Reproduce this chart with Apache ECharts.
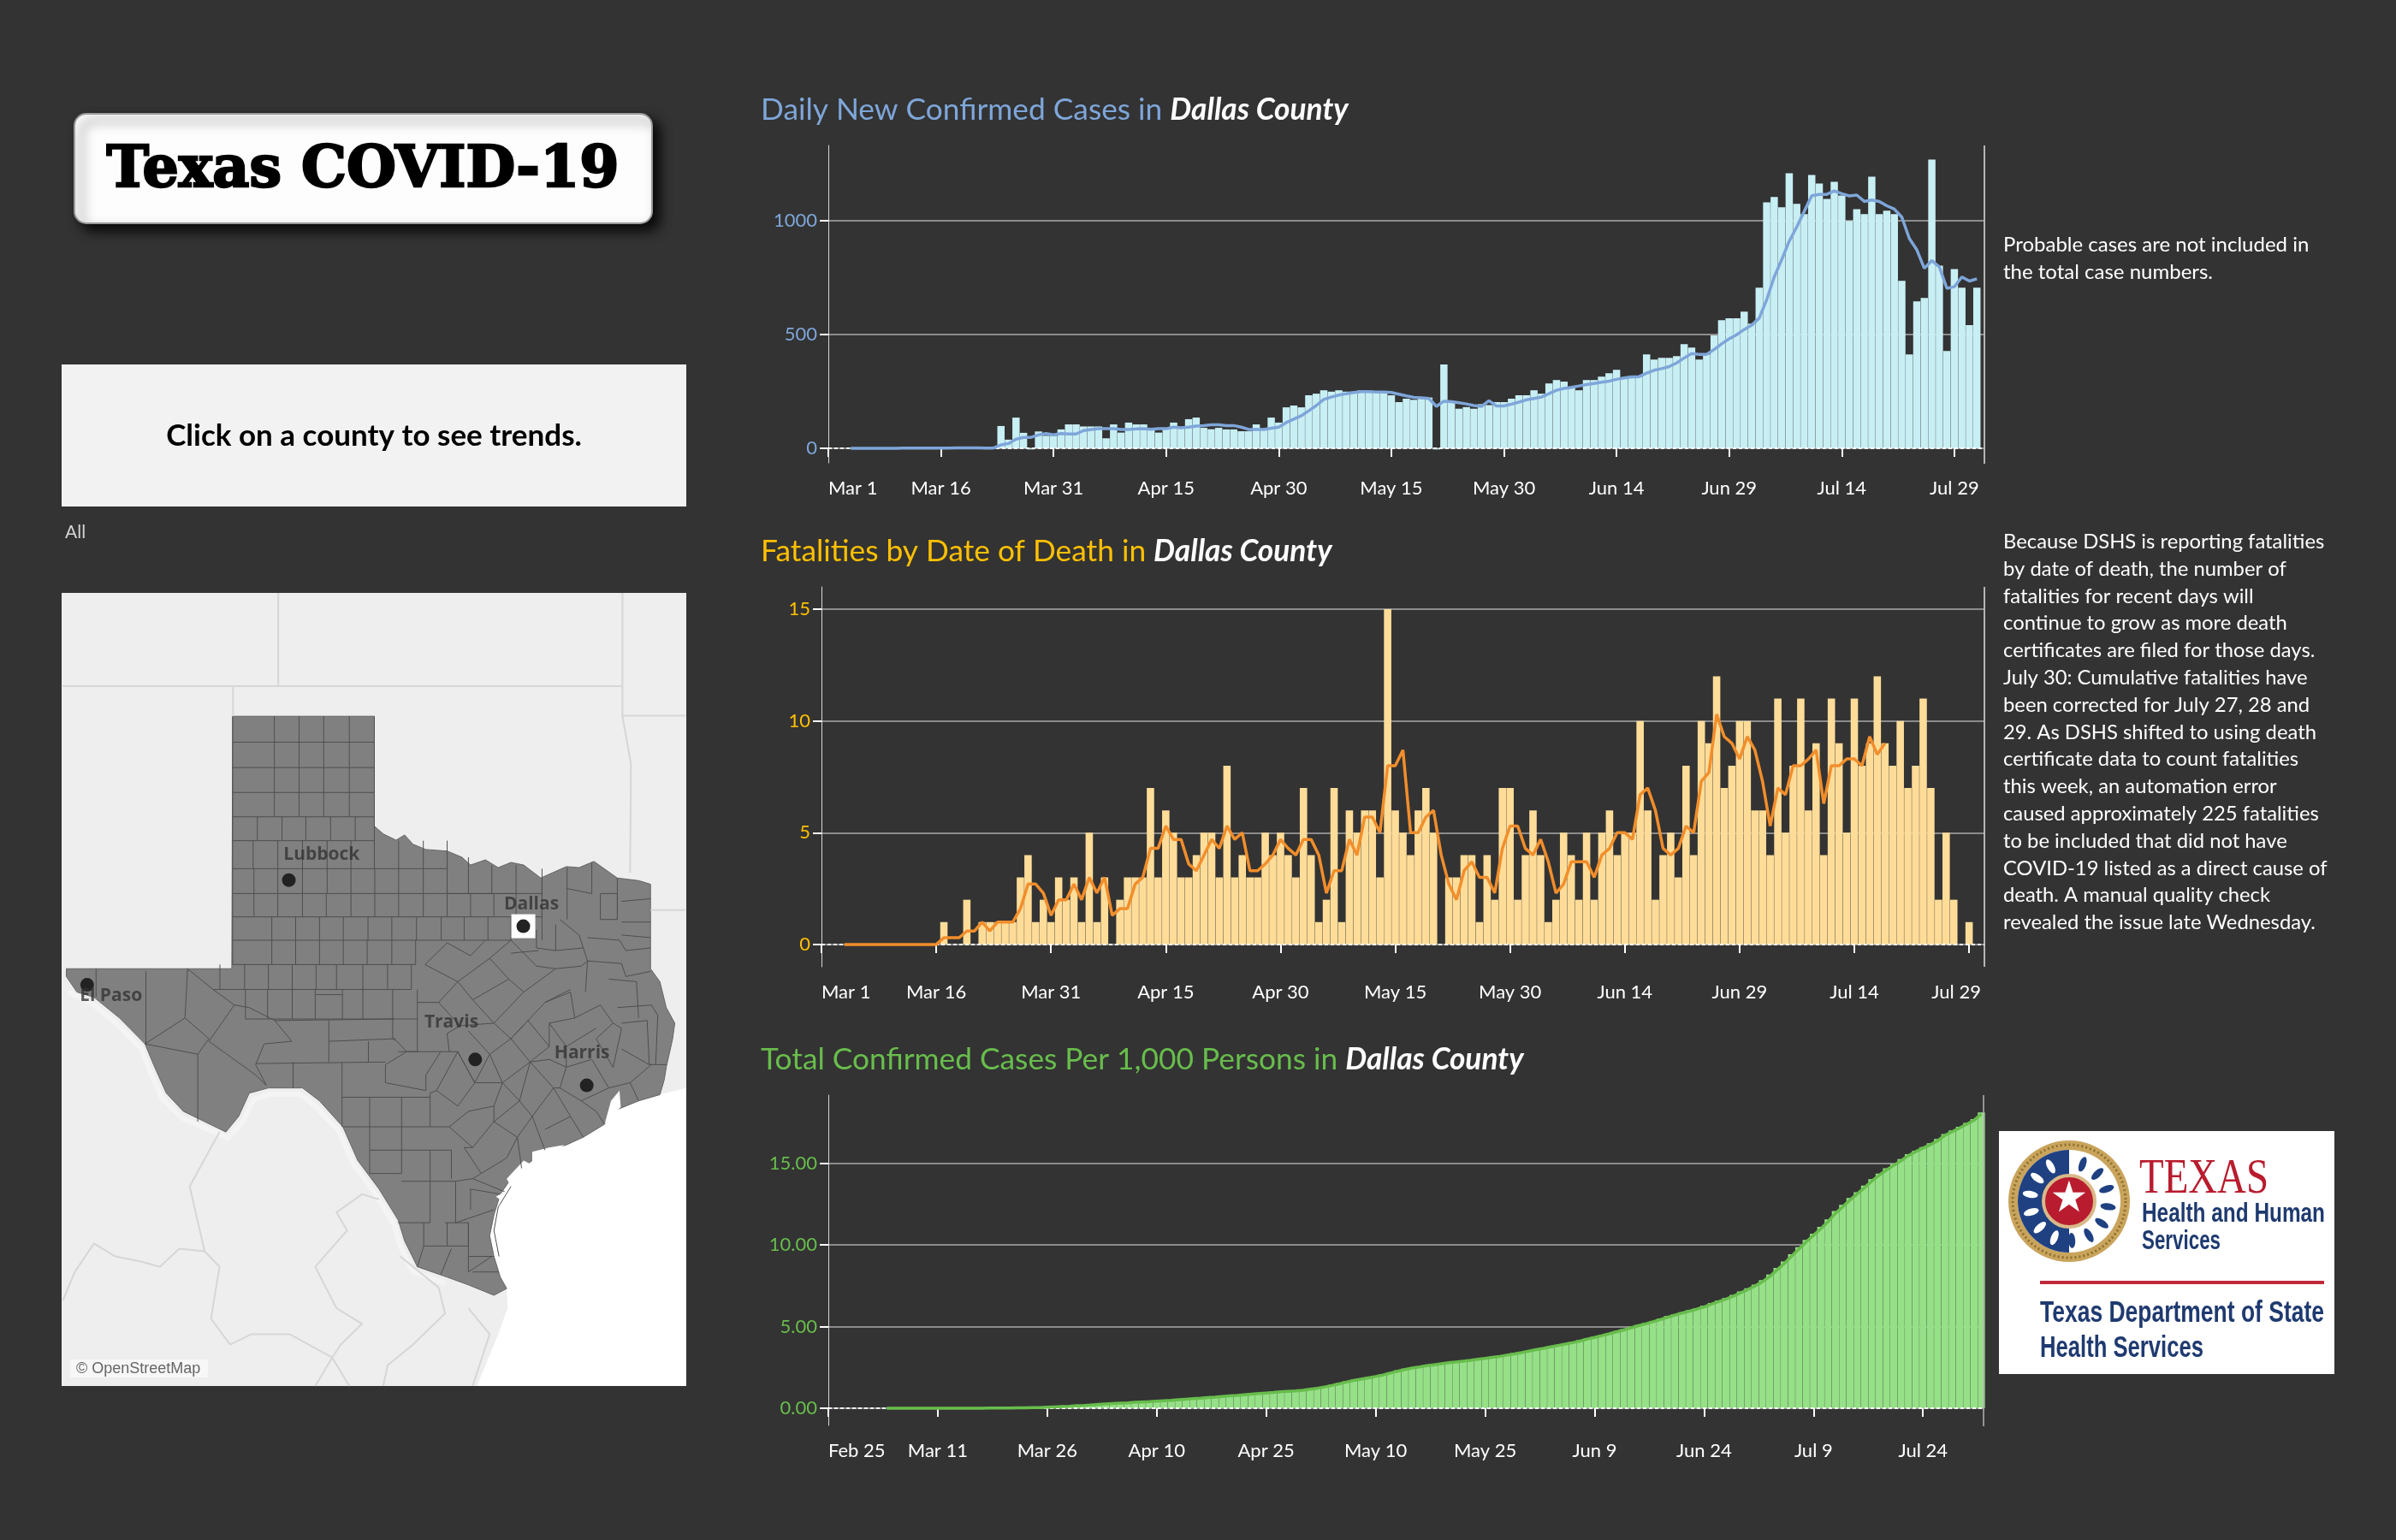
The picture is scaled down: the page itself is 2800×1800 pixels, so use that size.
<!DOCTYPE html>
<html>
<head>
<meta charset="utf-8">
<title>Texas COVID-19</title>
<script src="https://cdn.jsdelivr.net/npm/echarts@6/dist/echarts.min.js"></script>
<style>
html, body { margin: 0; padding: 0; background: #333333; }
#main { width: 2800px; height: 1800px; }
</style>
</head>
<body>
<div id="main"></div>
<script>
var font = 'Lato';

// x axes are day numbers counted from the first tick
var caseTickDays = [0, 15, 30, 45, 60, 75, 90, 105, 120, 135, 150];
var caseTickLabels = ['Mar 1', 'Mar 16', 'Mar 31', 'Apr 15', 'Apr 30', 'May 15', 'May 30', 'Jun 14', 'Jun 29', 'Jul 14', 'Jul 29'];
var totalTickLabels = ['Feb 25', 'Mar 11', 'Mar 26', 'Apr 10', 'Apr 25', 'May 10', 'May 25', 'Jun 9', 'Jun 24', 'Jul 9', 'Jul 24'];

// daily new cases, first value is day 3
var dailyCases = [2,1,1,1,0,1,1,4,2,1,1,2,4,1,1,1,1,-3,-3,2,
    98,38,135,68,-5,74,55,55,83,105,105,96,96,96,44,105,69,113,105,105,90,69,90,113,90,128,135,
    90,84,90,83,83,75,75,105,88,135,113,180,188,180,233,240,255,249,255,249,
    249,255,253,249,249,233,203,218,213,223,223,-5,368,203,174,181,174,194,190,203,203,218,233,233,255,240,
    285,300,293,270,255,300,300,315,330,345,308,315,315,413,390,398,398,405,458,443,390,413,496,563,571,571,601,548,706,
    1081,1104,1059,1209,1074,1029,1201,1164,1096,1171,1111,999,1051,1029,1194,1029,1044,1029,736,413,646,661,1269,803,428,788,706,541,706];
var dailyAvg = [0,0,0,0,0,0,0,1,1,1,1,1,1,1,2,2,2,2,1,1,
    15,21,40,48,48,59,65,59,65,63,63,78,83,86,86,86,83,83,85,86,84,86,86,93,90,93,98,
    100,103,103,100,100,93,83,83,83,88,93,113,128,143,165,188,215,225,234,240,
    245,249,249,247,247,245,238,230,224,222,219,184,207,205,200,195,188,184,209,186,186,194,203,213,219,225,
    240,255,263,268,274,280,285,290,295,303,309,314,315,330,343,350,359,375,397,416,413,413,434,459,481,499,522,541,572,
    653,753,829,910,973,1041,1110,1116,1116,1131,1119,1109,1113,1085,1091,1085,1066,1051,1016,922,872,791,825,797,703,710,753,735,745];

// fatalities, first value is day 3
var fatalities = [0,0,0,0,0,0,0,0,0,0,0,0,0,1,0,0,2,0,1,1,1,1,1,3,4,1,2,1,3,2,3,1,5,1,3,0,2,3,3,3,7,3,6,5,3,3,4,5,5,3,8,3,4,3,3,5,4,5,4,3,7,4,1,2,7,1,
    6,5,6,6,3,15,6,5,4,6,7,5,0,3,3,4,4,1,4,2,7,7,2,4,6,4,1,2,5,4,2,5,2,5,6,4,5,5,10,6,2,4,5,3,8,4,10,9,12,7,8,10,10,6,6,4,11,5,8,11,6,9,4,11,9,5,11,8,9,12,9,8,10,7,8,11,7,2,5,2,0,1,0];
var fatalityAvg = [0,0,0,0,0,0,0,0,0,0,0,0,0,0.3,0.3,0.3,0.6,0.6,1,0.6,1,1,1,1.6,2.7,2.7,2.3,1.3,2,2,2.7,2,3,2.3,3,1.3,1.6,1.6,2.7,3,4.3,4.3,5.3,4.7,4.7,3.6,3.3,4,4.7,4.3,5.3,4.7,5,3.3,3.3,3.6,4,4.7,4.3,4,4.7,4.7,4,2.3,3.3,3.3,
    4.7,4,5.7,5.7,5,8,8,8.7,5,5,5.7,6,4,2.7,2,3.3,3.7,3,3,2.3,4.3,5.3,5.3,4.3,4,4.7,3.7,2.3,2.7,3.7,3.7,3.7,3,4,4.3,5,5,4.7,6.7,7,6,4.3,4,4.3,5.3,5,7.3,7.7,10.3,9.3,9,8.3,9.3,8.7,7.3,5.3,7,6.7,8,8,8.3,8.7,6.3,8,8,8.3,8.3,8,9.3,8.5,9];

// total cases per 1,000 persons, first value is day 8
var totalCases = [0,0,0,0,0,0,0,0.01,0.01,0.01,0.01,0.01,0.01,0.01,0.02,0.02,0.02,0.02,0.03,0.03,0.04,
    0.05,0.07,0.09,0.12,0.14,0.17,0.19,0.22,0.26,0.28,0.31,0.33,0.35,0.38,0.4,0.42,0.45,0.48,0.5,0.54,0.57,0.6,0.63,0.67,0.7,0.74,0.77,0.81,0.84,0.88,0.92,0.96,0.98,1.02,1.05,1.08,
    1.13,1.19,1.26,1.35,1.43,1.54,1.65,1.74,1.82,1.9,1.98,2.09,2.2,2.32,2.42,2.5,2.56,2.64,2.7,2.76,2.81,2.87,2.92,2.97,3.03,3.08,3.15,3.21,3.29,3.37,3.44,3.53,3.62,3.71,3.8,3.88,
    3.97,4.06,4.17,4.28,4.38,4.49,4.61,4.72,4.84,4.98,5.1,5.22,5.34,5.48,5.64,5.76,5.87,6,6.12,6.28,6.44,6.6,6.75,6.93,7.14,7.34,7.56,7.84,8.18,8.58,8.98,9.42,9.85,10.3,
    10.68,11.1,11.56,12.06,12.44,12.86,13.22,13.62,14.02,14.36,14.68,14.94,15.25,15.55,15.76,15.98,16.22,16.48,16.78,17,17.22,17.46,17.7,18.1];
var totalLine = [0,0,0,0,0,0,0,0,0,0,0,0,0,0,0.01,0.01,0.01,0.01,0.02,0.02,0.03,
    0.04,0.06,0.08,0.1,0.12,0.15,0.17,0.2,0.23,0.26,0.29,0.31,0.33,0.36,0.38,0.4,0.43,0.46,0.48,0.52,0.55,0.58,0.61,0.65,0.68,0.72,0.75,0.78,0.82,0.86,0.9,0.93,0.96,1,1.03,1.06,
    1.1,1.16,1.22,1.3,1.39,1.49,1.6,1.7,1.78,1.86,1.94,2.03,2.15,2.26,2.37,2.46,2.52,2.6,2.66,2.72,2.78,2.83,2.88,2.93,2.99,3.05,3.11,3.17,3.25,3.32,3.4,3.49,3.58,3.66,3.75,3.84,
    3.92,4.01,4.11,4.23,4.33,4.44,4.55,4.67,4.79,4.92,5.05,5.16,5.29,5.42,5.56,5.7,5.82,5.94,6.06,6.2,6.36,6.52,6.68,6.85,7.06,7.26,7.48,7.74,8.06,8.46,8.86,9.3,9.74,10.18,
    10.58,10.98,11.42,11.92,12.32,12.74,13.12,13.5,13.9,14.26,14.58,14.86,15.14,15.46,15.7,15.92,16.12,16.36,16.7,16.92,17.14,17.38,17.62,18];

var noteOne = ['Probable cases are not included in', 'the total case numbers.'];
var noteTwo = ['Because DSHS is reporting fatalities', 'by date of death, the number of', 'fatalities for recent days will',
    'continue to grow as more death', 'certificates are filed for those days.', 'July 30: Cumulative fatalities have',
    'been corrected for July 27, 28 and', '29. As DSHS shifted to using death', 'certificate data to count fatalities',
    'this week, an automation error', 'caused approximately 225 fatalities', 'to be included that did not have',
    'COVID-19 listed as a direct cause of', 'death. A manual quality check', 'revealed the issue late Wednesday.'];

// map, traced in panel units (x 44-1512, y 20-1550)
var cityNames = ['Lubbock', 'Dallas', 'El Paso', 'Travis', 'Harris'];
var cityDots = [[578, 574], [1129, 663], [104, 776], [1016, 920], [1278, 970]];
var cityLabelSpots = [[655, 525], [1148, 620], [160, 798], [960, 848], [1267, 908]];

var texasOutline = [[446,258],[779,258],[779,470],[800,485],[830,497],[850,487],[870,505],[900,515],[950,518],[985,530],[1005,545],[1040,535],[1070,550],[1100,540],[1130,545],[1170,570],[1230,548],[1260,550],[1295,538],[1350,570],[1400,575],[1428,582],[1428,745],[1450,770],[1465,820],[1485,850],[1480,880],[1465,935],[1460,960],[1450,988],[1400,1000],[1340,1020],[1320,1045],[1270,1070],[1230,1085],[1180,1095],[1150,1115],[1125,1130],[1100,1150],[1075,1180],[1060,1220],[1050,1260],[1060,1300],[1075,1340],[1090,1362],[1060,1375],[1000,1355],[950,1340],[880,1320],[850,1270],[835,1230],[790,1170],[740,1115],[705,1050],[650,1000],[610,975],[530,975],[485,985],[460,1030],[430,1060],[380,1040],[330,1020],[290,985],[260,930],[240,890],[180,840],[120,800],[80,790],[55,760],[55,745],[444,745],[446,258]];
var gulfOutline = [[1512,975],[1450,988],[1400,1000],[1340,1020],[1320,1045],[1270,1070],[1230,1085],[1180,1095],[1150,1115],[1125,1130],[1100,1150],[1075,1180],[1060,1220],[1050,1260],[1060,1300],[1075,1340],[1090,1362],[1092,1400],[1070,1450],[1020,1550],[1512,1550],[1512,975]];
var panelOutline = [[44,20],[1512,20],[1512,1550],[44,1550],[44,20]];
var bayOutlines = [
    [[1320,1045],[1335,1000],[1355,980],[1358,1012]],
    [[1150,1098],[1190,1090],[1225,1085],[1180,1112],[1150,1125]],
    [[1090,1150],[1130,1115],[1160,1128],[1100,1165]],
    [[1065,1185],[1090,1172],[1082,1195]]
];

var borderLines = [
    [[46,200],[1360,200]], [[553,20],[553,200]], [[447,200],[447,258]],
    [[1362,20],[1362,258],[1382,350],[1380,560]], [[1362,257],[1510,257]], [[1428,632],[1510,632]],
    [[415,1060],[345,1165],[380,1290]],
    [[47,1385],[75,1330],[120,1275],[170,1300],[230,1310],[275,1320],[320,1285],[380,1290],[415,1320],[395,1420],[440,1470],[490,1450],[580,1450],[680,1495],[720,1550]],
    [[640,1320],[715,1250],[690,1215],[750,1180],[790,1190]],
    [[640,1320],[690,1400],[750,1430],[700,1470],[680,1495],[640,1550]],
    [[840,1300],[930,1360],[945,1410],[870,1470],[810,1510],[800,1550]],
    [[1000,1400],[1050,1450],[1010,1550]]
];
// pale band beside the rio grande
var riverHalo = [[[60,790],[115,812],[175,852],[232,900],[250,940],[280,995],[325,1032],[380,1052],[435,1072],[470,1040],[495,997],[530,987],[605,987],[640,1010],[695,1058],[730,1122],[780,1178],[825,1238],[840,1280],[870,1330],[945,1352]]];
var countyRows = [
    [258, 308, [446,544,602,660,720,779]], [308, 357, [446,544,602,660,720,779]],
    [357, 405, [446,544,602,660,720,779]], [405, 452, [446,544,602,660,720,779]],
    [452, 498, [446,504,562,618,676,734,779]],
    [498, 552, [446,494,552,610,668,724,779,836,894,950]],
    [552, 600, [446,496,552,610,668,724,780,836,894,950,1000,1055,1112,1173]],
    [600, 645, [446,496,552,610,666,724,780,836,894,950,1005,1060,1112,1173]],
    [645, 690, [446,538,594,650,706,764,820,878,936,990,1046,1100]],
    [690, 737, [446,538,594,650,706,762,820,876]],
    [737, 785, [416,474,530,586,642,690,752,810,866]],
    [785, 842, [476,528,586,640,704,752,822,880]]
];
var countyLines = [
    [[950,518],[950,552]], [[1000,530],[1000,552]], [[1055,545],[1055,552]], [[1112,545],[1112,552]], [[1232,550],[1232,650]], [[1290,540],[1290,600]], [[1350,570],[1350,650]],
    [[950,600],[1115,600]], [[1173,570],[1173,690]], [[1230,590],[1290,600]], [[1310,600],[1350,600],[1350,650],[1310,650],[1310,600]],
    [[1360,615],[1428,610]], [[1360,655],[1428,655]], [[1360,680],[1428,685]], [[1280,685],[1355,690],[1370,710],[1428,705]],
    [[1215,650],[1260,680],[1280,730],[1275,790]], [[1205,660],[1205,710],[1270,705]], [[1160,670],[1160,705],[1205,710]],
    [[1205,745],[1265,740],[1280,730],[1360,735],[1370,760],[1428,750]], [[1330,765],[1395,770],[1400,840]], [[1350,820],[1430,815]],
    [[125,745],[125,800]], [[242,750],[242,890]], [[340,745],[334,840],[240,890]], [[334,840],[390,880],[364,910],[240,890]], [[364,910],[364,1040]],
    [[390,885],[450,815],[400,785],[340,745]], [[390,885],[500,950],[525,970]], [[400,785],[640,785]],
    [[588,925],[588,975]], [[500,928],[805,925]], [[525,970],[500,930],[520,890],[585,885]], [[585,885],[545,845],[485,820],[450,815]],
    [[672,845],[672,925]], [[672,885],[830,880]], [[765,885],[765,925]], [[545,845],[825,842]], [[640,795],[704,795]],
    [[822,842],[822,880],[832,885],[855,905]], [[880,842],[880,905],[835,905]],
    [[898,737],[950,695],[1005,720],[1040,690]], [[898,737],[975,770],[1050,725],[1100,690]], [[975,770],[1010,805],[1095,765],[1130,790],[1205,745]],
    [[1010,805],[1060,850],[1130,790]], [[1060,850],[1100,880],[1180,810],[1240,785]], [[1050,725],[1095,765]], [[1100,690],[1160,740],[1205,745]], [[1100,715],[1165,710]],
    [[880,810],[930,810],[980,855],[950,870],[955,905]], [[930,810],[975,770]], [[980,855],[1060,850]],
    [[1000,865],[1050,910],[1015,965],[975,905]], [[1050,910],[1100,880],[1145,925],[1080,965],[1050,910]], [[1100,880],[1140,845],[1190,895],[1145,925]],
    [[1180,810],[1240,790],[1250,840],[1190,850],[1190,895]], [[1250,840],[1310,815],[1340,850],[1300,880]], [[1190,850],[1230,895],[1300,860]],
    [[1230,895],[1230,935],[1190,920],[1145,925]], [[1230,935],[1215,975],[1265,1000],[1330,975],[1290,920],[1230,935]],
    [[1300,880],[1340,935],[1360,860],[1340,850]], [[1360,850],[1420,845],[1425,930],[1360,900]], [[1430,815],[1445,835],[1440,930]], [[1425,930],[1465,930]],
    [[1330,975],[1380,965],[1400,1000]], [[1380,965],[1430,930]],
    [[855,905],[935,905],[900,950],[900,980],[805,965],[805,930],[855,905]], [[935,905],[975,905],[925,980],[910,985],[910,1050]],
    [[975,905],[1015,965],[975,1010],[925,980]], [[1015,965],[1080,965],[1060,1010],[1000,1020]], [[1080,965],[1120,1000],[1060,1040],[1060,1010]],
    [[1120,1000],[1145,925]], [[1145,925],[1200,975],[1150,1030],[1120,1000]], [[1200,975],[1215,975]], [[1150,1030],[1180,1095]],
    [[1200,975],[1240,1030],[1180,1055]], [[1240,1030],[1270,1070]], [[1265,1000],[1300,1020],[1320,1045]],
    [[910,1050],[955,1050],[1000,1020]], [[955,1050],[1010,1090],[1060,1040],[1115,1070],[1150,1030]], [[1010,1090],[990,1090],[1030,1140],[1090,1110],[1115,1070]],
    [[1115,1070],[1125,1130]], [[1030,1140],[1010,1150],[1085,1175]], [[1010,1150],[970,1155],[970,1235],[1060,1210]], [[1005,1170],[1005,1210]], [[1005,1170],[1075,1180]],
    [[703,925],[703,1050]], [[768,993],[768,1140],[843,1140],[843,993]], [[703,993],[910,993]], [[705,1050],[910,1050]], [[768,1095],[960,1095],[960,1150]],
    [[843,1155],[970,1155]], [[910,1095],[910,1235],[835,1235]], [[895,1235],[895,1280],[950,1280],[950,1235]], [[945,1235],[1000,1235],[1000,1280],[950,1280]],
    [[1000,1235],[1000,1330],[1055,1300]], [[1000,1300],[1060,1300]], [[880,1320],[895,1280]], [[935,1335],[960,1285]], [[1010,1330],[1070,1330]],
    [[1072,1300],[1060,1250],[1070,1205],[1100,1165]]
];

// geo coordinates grow upwards, the traced ones grow downwards
function flip(p) { return [p[0], -p[1]]; }
function flipAll(list) { return list.map(flip); }
function polygon(name, pts) {
    return { type: 'Feature', properties: { name: name }, geometry: { type: 'Polygon', coordinates: [flipAll(pts)] } };
}
var features = [polygon('land', panelOutline), polygon('gulf', gulfOutline), polygon('state', texasOutline)];
bayOutlines.forEach(function (b, i) { features.push(polygon('bay' + i, b.concat([b[0]]))); });
echarts.registerMap('texas', { type: 'FeatureCollection', features: features });

var gridLines = [];
countyRows.forEach(function (row) {
    row[2].forEach(function (x) { gridLines.push([[x, row[0]], [x, row[1]]]); });
    gridLines.push([[row[2][0], row[1]], [row[2][row[2].length - 1], row[1]]]);
});

function toLines(list) {
    return list.map(function (line) { return { coords: flipAll(line) }; });
}
function byDay(start, values) {
    return values.map(function (v, i) { return [start + i, v]; });
}

function xAxis(grid, max, labels, lastShift) {
    return {
        type: 'value', gridIndex: grid, min: 0, max: max, position: 'bottom',
        axisLine: { show: false },
        axisTick: { show: true, length: 10, customValues: caseTickDays, lineStyle: { color: '#fff', width: 2 } },
        axisLabel: {
            customValues: caseTickDays, color: '#fff', fontFamily: font, fontSize: 22, margin: 19, alignMinLabel: 'left',
            rich: { last: { color: '#fff', fontFamily: font, fontSize: 22, padding: [0, lastShift * 2, 0, 0] } },
            formatter: function (v) {
                var i = caseTickDays.indexOf(v);
                return (i === labels.length - 1 && lastShift) ? '{last|' + labels[i] + '}' : labels[i];
            }
        },
        splitLine: { show: false }
    };
}
function yAxis(grid, min, max, ticks, color, digits) {
    return {
        type: 'value', gridIndex: grid, min: min, max: max,
        axisLine: { show: true, onZero: false, lineStyle: { color: '#d9d9d9', width: 1 } },
        axisTick: { show: true, length: 10, customValues: ticks, lineStyle: { color: '#fff', width: 2 } },
        axisLabel: {
            customValues: ticks, color: color, fontFamily: font, fontSize: 22, margin: 13,
            formatter: function (v) { return v.toFixed(digits); }
        },
        splitLine: { show: true, lineStyle: { color: '#8c8c8c', width: 2 } }
    };
}
function bars(grid, start, values, color, width) {
    return {
        type: 'bar', xAxisIndex: grid, yAxisIndex: grid, barWidth: width, data: byDay(start, values),
        itemStyle: { color: color }, silent: true,
        markLine: {
            silent: true, symbol: 'none', animation: false, label: { show: false },
            lineStyle: { color: '#fff', type: [4, 3], width: 2 }, data: [{ yAxis: 0 }]
        }
    };
}
function line(grid, start, values, color) {
    return {
        type: 'line', xAxisIndex: grid, yAxisIndex: grid, showSymbol: false, symbol: 'none', silent: true,
        data: byDay(start, values), lineStyle: { color: color, width: 3.5 }, z: 5
    };
}
function chartTitle(text, color, x, y) {
    return {
        left: x, top: y, padding: 0, text: '{a|' + text + ' in }{b|Dallas County}',
        textStyle: {
            rich: {
                a: { color: color, fontFamily: font, fontSize: 35.3, fontWeight: 'normal' },
                b: { color: '#fff', fontFamily: font, fontSize: 35.3, fontWeight: 'bold', fontStyle: 'italic' }
            }
        }
    };
}
function txt(text, x, y, size, fill, extra) {
    return {
        type: 'text', silent: true, z: 20,
        style: Object.assign({ text: text, x: x, y: y, fontSize: size, fontFamily: font, fill: fill, textVerticalAlign: 'middle' }, extra || {})
    };
}
// squeezed text, no condensed face is installed
var measureCtx = document.createElement('canvas').getContext('2d');
function fitted(text, x, y, size, width, fill, family, weight) {
    measureCtx.font = weight + ' ' + size + 'px "' + family + '"';
    var el = txt(text, 0, 0, size, fill, { fontFamily: family, fontWeight: weight });
    el.x = x;
    el.y = y;
    el.scaleX = width / measureCtx.measureText(text).width;
    return el;
}
function rule(x, y1, y2, color, width) {
    return { type: 'line', silent: true, z: 3, shape: { x1: x, y1: y1, x2: x, y2: y2 }, style: { stroke: color, lineWidth: width } };
}

// texas hhs seal for the logo box
function sealParts(cx, cy) {
    var parts = [
        { type: 'circle', shape: { cx: cx, cy: cy, r: 71 }, style: { fill: '#c9a45c' } },
        { type: 'circle', shape: { cx: cx, cy: cy, r: 66 }, style: { fill: 'none', stroke: '#8d6f2c', lineWidth: 3, lineDash: [2, 3] } },
        { type: 'circle', shape: { cx: cx, cy: cy, r: 60 }, style: { fill: '#fff' } },
        { type: 'sector', shape: { cx: cx, cy: cy, r: 60, startAngle: Math.PI / 2, endAngle: Math.PI * 1.5 }, style: { fill: '#1f4182' } }
    ];
    for (var a = 20; a <= 340; a += 26) {
        var rad = a * Math.PI / 180;
        parts.push({
            type: 'ellipse', rotation: -rad, x: cx + 46 * Math.sin(rad), y: cy - 46 * Math.cos(rad),
            shape: { cx: 0, cy: 0, rx: 4, ry: 9 },
            style: { fill: a < 180 ? '#1f4182' : '#fff' }
        });
    }
    parts.push({ type: 'circle', shape: { cx: cx, cy: cy, r: 30 }, style: { fill: '#b81c2e', stroke: '#d9b98a', lineWidth: 4 } });
    parts.push(txt('\u2605', cx, cy - 1, 50, '#fff', { align: 'center', fontFamily: 'DejaVu Sans' }));
    parts.forEach(function (p) { p.silent = true; p.z = 11; });
    return parts;
}

var navy = '#1f3a70';
var decor = [
    // title plate
    {
        type: 'rect', silent: true, z: 1, shape: { x: 87, y: 133, width: 675, height: 128, r: 14 },
        style: { fill: '#fdfdfd', stroke: '#9a9a9a', lineWidth: 2, shadowColor: 'rgba(0,0,0,0.85)', shadowBlur: 14, shadowOffsetX: 8, shadowOffsetY: 8 }
    },
    txt('Texas COVID-19', 424, 201, 66.5, '#000', { align: 'center', fontFamily: 'DejaVu Serif', fontWeight: 'bold', stroke: '#000', lineWidth: 2.5 }),
    // county prompt
    { type: 'rect', silent: true, z: 1, shape: { x: 72, y: 426, width: 730, height: 166 }, style: { fill: '#f2f2f2' } },
    txt('Click on a county to see trends.', 437, 510, 35, '#000', { align: 'center', fontWeight: 'bold' }),
    txt('All', 76, 622, 21, '#d4d4d4'),
    // osm credit
    { type: 'rect', silent: true, z: 10, shape: { x: 82, y: 1589, width: 161, height: 21 }, style: { fill: '#f7f7f7' } },
    txt('\u00a9 OpenStreetMap', 89, 1600, 18, '#666', { fontFamily: 'Liberation Sans' }),
    // right hand frame of each plot
    rule(2319, 170, 542, '#b5b5b5', 2),
    rule(2319, 686, 1130, '#b5b5b5', 2),
    rule(2318, 1280, 1667, '#b5b5b5', 1.5),
    txt(noteOne.join('\n'), 2341, 302, 24, '#fff', { lineHeight: 32 }),
    txt(noteTwo.join('\n'), 2341, 856, 23.8, '#fff', { lineHeight: 31.8 }),
    // logo
    { type: 'rect', silent: true, z: 10, shape: { x: 2336, y: 1322, width: 392, height: 284 }, style: { fill: '#fff' } },
    fitted('TEXAS', 2500, 1379, 56, 151, '#b81c2e', 'Liberation Serif', 'normal'),
    fitted('Health and Human', 2503, 1419, 32, 214, navy, 'Liberation Sans', 'bold'),
    fitted('Services', 2503, 1451, 32, 92, navy, 'Liberation Sans', 'bold'),
    { type: 'rect', silent: true, z: 11, shape: { x: 2384, y: 1497, width: 332, height: 4 }, style: { fill: '#c0283c' } },
    fitted('Texas Department of State', 2384, 1535, 35, 332, navy, 'Liberation Sans', 'bold'),
    fitted('Health Services', 2384, 1576, 35, 191, navy, 'Liberation Sans', 'bold')
].concat(sealParts(2418, 1404));

var myChart = echarts.init(document.getElementById('main'));
var option = {
    animation: false,
    backgroundColor: '#333333',
    title: [
        chartTitle('Daily New Confirmed Cases', '#7ea6d9', 889, 111),
        chartTitle('Fatalities by Date of Death', '#ffc000', 889, 627),
        chartTitle('Total Confirmed Cases Per 1,000 Persons', '#68bd4c', 889, 1221)
    ],
    grid: [
        { left: 968, top: 170, width: 1351, height: 371 },
        { left: 960, top: 686, width: 1359, height: 444 },
        { left: 968, top: 1280, width: 1350, height: 386 }
    ],
    xAxis: [xAxis(0, 154, caseTickLabels, 0), xAxis(1, 152, caseTickLabels, 15), xAxis(2, 158.3, totalTickLabels, 0)],
    yAxis: [
        yAxis(0, -64, 1331, [0, 500, 1000], '#7ea6d9', 0),
        yAxis(1, -1, 16, [0, 5, 10, 15], '#ffc000', 0),
        yAxis(2, -1.05, 19.16, [0, 5, 10, 15], '#68bd4c', 2)
    ],
    geo: {
        map: 'texas', silent: true, roam: false, left: 72, top: 693, width: 730, height: 927,
        boundingCoords: [[44, -20], [1512, -1550]],
        label: { show: false },
        itemStyle: { areaColor: '#eeeeee', borderWidth: 0 },
        emphasis: { disabled: true },
        regions: [
            { name: 'land', itemStyle: { areaColor: '#eeeeee', borderWidth: 0 } },
            { name: 'gulf', itemStyle: { areaColor: '#ffffff', borderWidth: 0 } },
            { name: 'state', itemStyle: { areaColor: '#808080', borderColor: '#666666', borderWidth: 1 } },
            { name: 'bay0', itemStyle: { areaColor: '#ffffff', borderWidth: 0 } },
            { name: 'bay1', itemStyle: { areaColor: '#ffffff', borderWidth: 0 } },
            { name: 'bay2', itemStyle: { areaColor: '#ffffff', borderWidth: 0 } },
            { name: 'bay3', itemStyle: { areaColor: '#ffffff', borderWidth: 0 } }
        ]
    },
    series: [
        bars(0, 3, dailyCases, '#c8eff4', 8.5),
        line(0, 3, dailyAvg, '#7ea6d9'),
        bars(1, 3, fatalities, '#ffdd99', 8.6),
        line(1, 3, fatalityAvg, '#f28e2b'),
        bars(2, 8, totalCases, '#96e088', 8.3),
        line(2, 8, totalLine, '#68bd4c'),
        {
            type: 'lines', coordinateSystem: 'geo', polyline: true, silent: true, z: 2,
            lineStyle: { color: '#f4f4f4', width: 6, opacity: 1, curveness: 0 }, data: toLines(riverHalo)
        },
        {
            type: 'lines', coordinateSystem: 'geo', polyline: true, silent: true, z: 3,
            lineStyle: { color: '#d6d6d6', width: 2, opacity: 1, curveness: 0 }, data: toLines(borderLines)
        },
        {
            type: 'lines', coordinateSystem: 'geo', polyline: true, silent: true, z: 4,
            lineStyle: { color: '#4f4f4f', width: 1, opacity: 1, curveness: 0 }, data: toLines(gridLines.concat(countyLines))
        },
        {
            // white selection square behind dallas
            type: 'scatter', coordinateSystem: 'geo', silent: true, z: 5, symbol: 'rect', symbolSize: 28,
            data: [flip(cityDots[1])], itemStyle: { color: '#fff', opacity: 1 }
        },
        {
            type: 'scatter', coordinateSystem: 'geo', silent: true, z: 6, symbolSize: 16,
            data: cityDots.map(flip), itemStyle: { color: '#222', opacity: 1 }
        },
        {
            type: 'scatter', coordinateSystem: 'geo', silent: true, z: 7, symbolSize: 0,
            data: cityNames.map(function (name, i) { return { name: name, value: flip(cityLabelSpots[i]) }; }),
            label: {
                show: true, position: 'inside', formatter: '{b}', color: '#333',
                fontFamily: 'Open Sans', fontWeight: 'bold', fontSize: 21
            }
        }
    ],
    graphic: decor
};
myChart.setOption(option);
</script>
</body>
</html>
